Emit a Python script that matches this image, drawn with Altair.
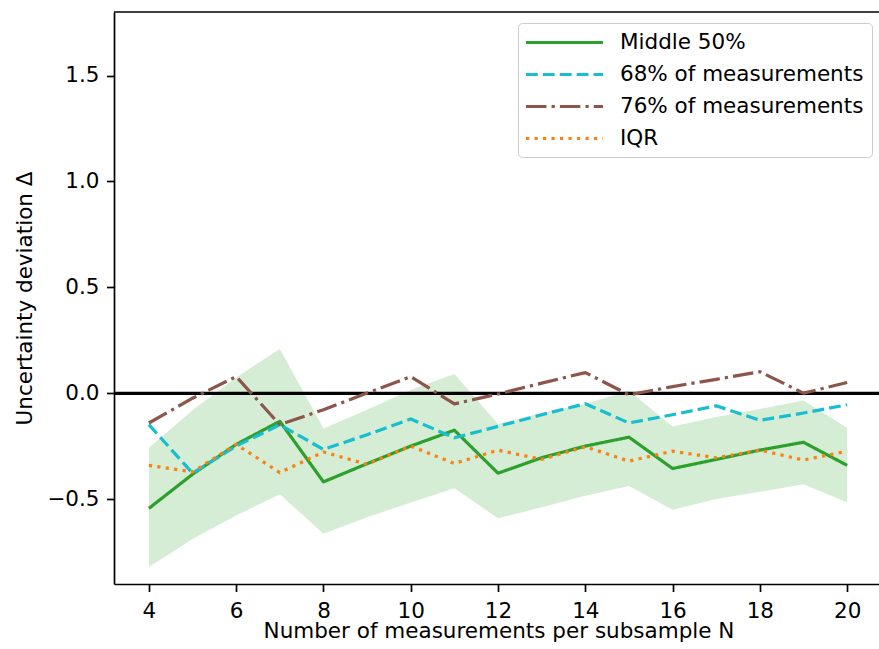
import altair as alt
import pandas as pd

# ---- data ----
N = [4, 5, 6, 7, 8, 9, 10, 11, 12, 13, 14, 15, 16, 17, 18, 19, 20]
middle50 = [-0.543, -0.382, -0.241, -0.132, -0.418, -0.332, -0.249, -0.174, -0.377,
            -0.304, -0.249, -0.207, -0.355, -0.312, -0.268, -0.231, -0.340]
band_upper = [-0.257, -0.080, 0.075, 0.209, -0.166, -0.077, 0.016, 0.091, -0.145,
              -0.093, -0.049, 0.012, -0.156, -0.112, -0.074, -0.034, -0.163]
band_lower = [-0.820, -0.687, -0.577, -0.476, -0.663, -0.585, -0.515, -0.448, -0.590,
              -0.538, -0.484, -0.437, -0.549, -0.499, -0.465, -0.429, -0.515]
p68 = [-0.148, -0.377, -0.249, -0.148, -0.265, -0.195, -0.121, -0.210, -0.156,
       -0.101, -0.049, -0.140, -0.101, -0.059, -0.127, -0.093, -0.054]
p76 = [-0.140, -0.023, 0.079, -0.148, -0.077, 0.001, 0.079, -0.050, -0.003,
       0.048, 0.098, -0.007, 0.032, 0.066, 0.102, 0.001, 0.051]
iqr = [-0.340, -0.371, -0.241, -0.374, -0.277, -0.335, -0.249, -0.331, -0.268,
       -0.312, -0.252, -0.320, -0.273, -0.304, -0.268, -0.315, -0.273]

series_names = ["Middle 50%", "68% of measurements", "76% of measurements", "IQR"]
series_values = [middle50, p68, p76, iqr]
series_colors = ["#2ca02c", "#17becf", "#8c564b", "#ff7f0e"]
series_dashes = [[1, 0], [11.8, 5.1], [20.5, 5.1, 3.2, 5.1], [3.2, 5.3]]

x_ticks = [4, 6, 8, 10, 12, 14, 16, 18, 20]
y_ticks = [-0.5, 0.0, 0.5, 1.0, 1.5]
x_domain = [3.2, 20.73]
y_domain = [-0.9, 1.8]

FONT = "DejaVu Sans"
FS = 21.5

# ---- tables ----
band_df = pd.DataFrame({"N": N, "lower": band_lower, "upper": band_upper})
rows = []
for name, vals in zip(series_names, series_values):
    for n, v in zip(N, vals):
        rows.append({"N": n, "value": v, "series": name})
lines_df = pd.DataFrame(rows)

x_scale = alt.Scale(domain=x_domain, nice=False, zero=False)
y_scale = alt.Scale(domain=y_domain, nice=False, zero=False)

x_axis = alt.Axis(
    values=x_ticks, format="d", grid=False,
    title="Number of measurements per subsample N",
    labelBaseline="alphabetic", labelPadding=25.5,
    titleX=384.5, titleY=53, titleAlign="center", titleBaseline="alphabetic",
)
y_axis = alt.Axis(
    values=y_ticks, format=".1f", grid=False,
    title="Uncertainty deviation Δ",
    labelPadding=7.5,
    titleX=-83, titleY=286, titleAlign="center", titleBaseline="alphabetic", titleAngle=270,
)

band = alt.Chart(band_df).mark_area(
    color="#2ca02c", opacity=0.2, strokeWidth=0
).encode(
    x=alt.X("N:Q", scale=x_scale, axis=x_axis),
    y=alt.Y("lower:Q", scale=y_scale, axis=y_axis),
    y2="upper:Q",
)

zero_line = alt.Chart(alt.Data(values=[{}])).mark_rule(
    color="black", strokeWidth=3.2
).encode(y=alt.datum(0, scale=y_scale))

top_spine = alt.Chart(alt.Data(values=[{}])).mark_rule(
    color="black", strokeWidth=1.7
).encode(y=alt.datum(y_domain[1], scale=y_scale))

lines = alt.Chart(lines_df).mark_line(
    strokeWidth=3.2, strokeCap="butt", strokeJoin="round"
).encode(
    x=alt.X("N:Q", scale=x_scale),
    y=alt.Y("value:Q", scale=y_scale),
    color=alt.Color(
        "series:N",
        scale=alt.Scale(domain=series_names, range=series_colors),
        sort=series_names,
        legend=alt.Legend(
            title=None, orient="none", legendX=404, legendY=11,
            padding=8, strokeColor="#cccccc", fillColor="rgba(255,255,255,0.8)",
            cornerRadius=4,
            symbolType="M-4,0H4", symbolSize=371, symbolStrokeWidth=3.2,
            symbolOffset=27, labelOffset=44,
            labelFont=FONT, labelFontSize=FS, labelColor="black", labelLimit=500,
            rowPadding=10,
        ),
    ),
    strokeDash=alt.StrokeDash(
        "series:N",
        scale=alt.Scale(domain=series_names, range=series_dashes),
        sort=series_names,
        legend=alt.Legend(title=None),
    ),
    order=alt.Order("N:Q"),
)

chart = alt.layer(band, zero_line, lines, top_spine).properties(
    width=765,
    height=572,
    autosize=alt.AutoSizeParams(type="none"),
    padding={"left": 114, "top": 12, "right": 0, "bottom": 65},
).configure(
    font=FONT, background="white"
).configure_view(
    strokeOpacity=0
).configure_axis(
    domainColor="black", domainWidth=1.7,
    tickColor="black", tickWidth=1.7, tickSize=7.5,
    labelFont=FONT, labelFontSize=FS, labelColor="black",
    titleFont=FONT, titleFontSize=FS, titleFontWeight="normal", titleColor="black",
)

chart.save("out.html", embed_options={"renderer": "svg", "actions": False})
